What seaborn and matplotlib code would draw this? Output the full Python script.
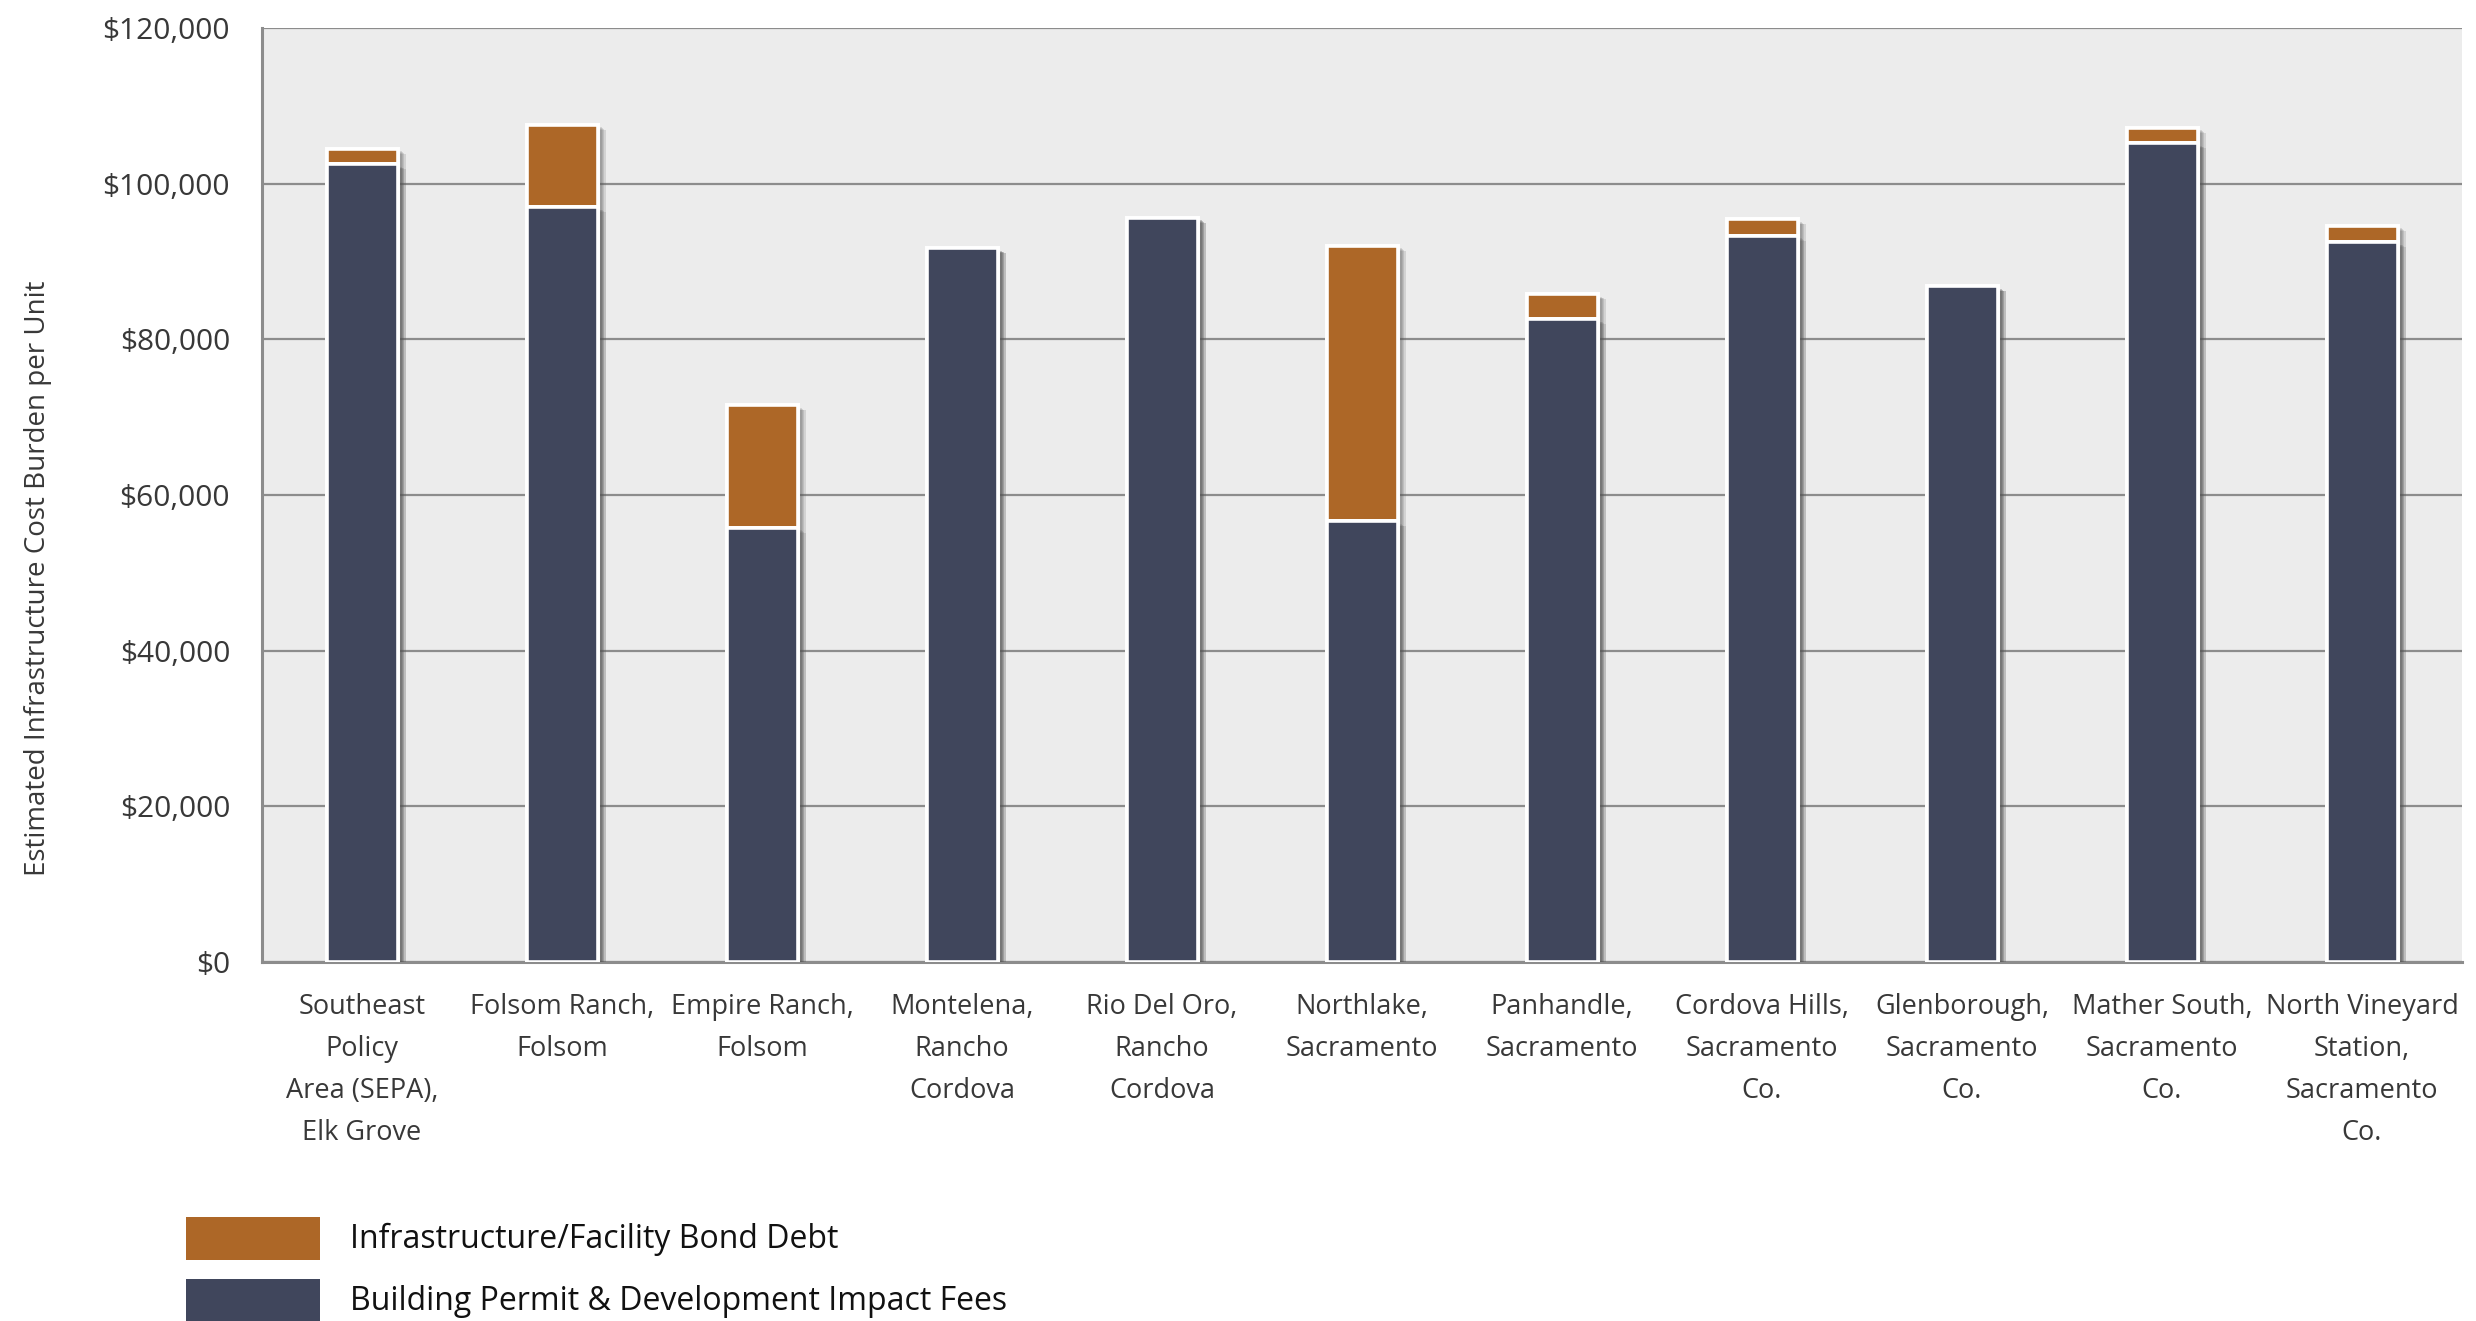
import matplotlib
matplotlib.use("Agg")
import matplotlib.pyplot as plt
import matplotlib.patheffects as pe
from matplotlib.patches import Rectangle
from matplotlib.ticker import FuncFormatter
import pandas as pd
import seaborn as sns

# Planning areas (tick labels, wrapped as printed)
areas = [
    "Southeast\nPolicy\nArea (SEPA),\nElk Grove",
    "Folsom Ranch,\nFolsom",
    "Empire Ranch,\nFolsom",
    "Montelena,\nRancho\nCordova",
    "Rio Del Oro,\nRancho\nCordova",
    "Northlake,\nSacramento",
    "Panhandle,\nSacramento",
    "Cordova Hills,\nSacramento\nCo.",
    "Glenborough,\nSacramento\nCo.",
    "Mather South,\nSacramento\nCo.",
    "North Vineyard\nStation,\nSacramento\nCo.",
]

# Cost components per unit (USD)
permit_fees = [102500, 97000, 55800, 91700, 95600, 56600, 82600, 93300, 86800, 105200, 92500]
bond_debt = [2000, 10600, 15700, 0, 0, 35400, 3200, 2100, 0, 2000, 2100]

legend_labels = ["Infrastructure/Facility Bond Debt", "Building Permit & Development Impact Fees"]
y_ticks = [0, 20000, 40000, 60000, 80000, 100000, 120000]

ORANGE = "#AD6727"
NAVY = "#40465C"
PANEL = "#ECECEC"
GRID = "#8C8C8C"
TEXT = "#383838"

sns.set_style("white")
plt.rcParams["font.family"] = ["Open Sans", "DejaVu Sans"]

df = pd.DataFrame({
    "area": areas,
    "fees": permit_fees,
    "total": [f + b for f, b in zip(permit_fees, bond_debt)],
})

fig = plt.figure(figsize=(24.76, 13.21), dpi=100)
ax = fig.add_axes([262 / 2476, 1 - 962 / 1321, 2200 / 2476, (962 - 28) / 1321])
ax.set_facecolor(PANEL)

# Full stack height first (bond debt shows above the fees segment)
sns.barplot(data=df, x="area", y="total", color=ORANGE, saturation=1, width=0.355,
            edgecolor="white", linewidth=2.6, ax=ax)
n_top = len(ax.patches)
sns.barplot(data=df, x="area", y="fees", color=NAVY, saturation=1, width=0.355,
            edgecolor="white", linewidth=2.6, ax=ax)

# Soft drop shadow built from a few faint offset copies
shadow = [pe.withSimplePatchShadow(offset=(dx, -dy), shadow_rgbFace="#555555", alpha=0.16)
          for dx, dy in [(2.0, 1.2), (3.0, 1.8), (4.0, 2.4), (5.0, 3.0), (6.0, 3.6)]]
shadow.append(pe.Normal())
for i, p in enumerate(ax.patches):
    p.set_path_effects(shadow)
    p.set_zorder(3 if i < n_top else 4)

ax.set_xlim(-0.5, len(areas) - 0.5)
ax.set_ylim(0, 120000)
ax.set_yticks(y_ticks)
ax.yaxis.set_major_formatter(FuncFormatter(lambda v, _: f"${v:,.0f}"))
ax.set_axisbelow(True)
ax.yaxis.grid(True, color=GRID, linewidth=1.6)
ax.xaxis.grid(False)

ax.set_xlabel("")
ax.set_ylabel("")
ax.tick_params(axis="y", length=0, pad=23, labelsize=21.5, labelcolor=TEXT)
ax.tick_params(axis="x", length=0, pad=22, labelsize=19.5, labelcolor=TEXT)
for lbl in ax.get_xticklabels():
    lbl.set_linespacing(1.67)
    lbl.set_ha("center")

for side in ("top", "right"):
    ax.spines[side].set_visible(False)
for side in ("left", "bottom"):
    ax.spines[side].set_color(GRID)
    ax.spines[side].set_linewidth(2.2)

fig.text(38 / 2476, 1 - 578 / 1321, "Estimated Infrastructure Cost Burden per Unit",
         rotation=90, ha="center", va="center", fontsize=20, color=TEXT)

# Legend swatches and labels below the plot
for j, (lab, col) in enumerate(zip(legend_labels, [ORANGE, NAVY])):
    y0 = 1217 + j * 62
    fig.add_artist(Rectangle((186 / 2476, 1 - (y0 + 43) / 1321), 134 / 2476, 43 / 1321,
                             transform=fig.transFigure, facecolor=col, edgecolor="none"))
    fig.text(350 / 2476, 1 - (y0 + 22) / 1321, lab, ha="left", va="center",
             fontsize=23, color="#111111")

fig.savefig("out.png", dpi=100, facecolor="white")
